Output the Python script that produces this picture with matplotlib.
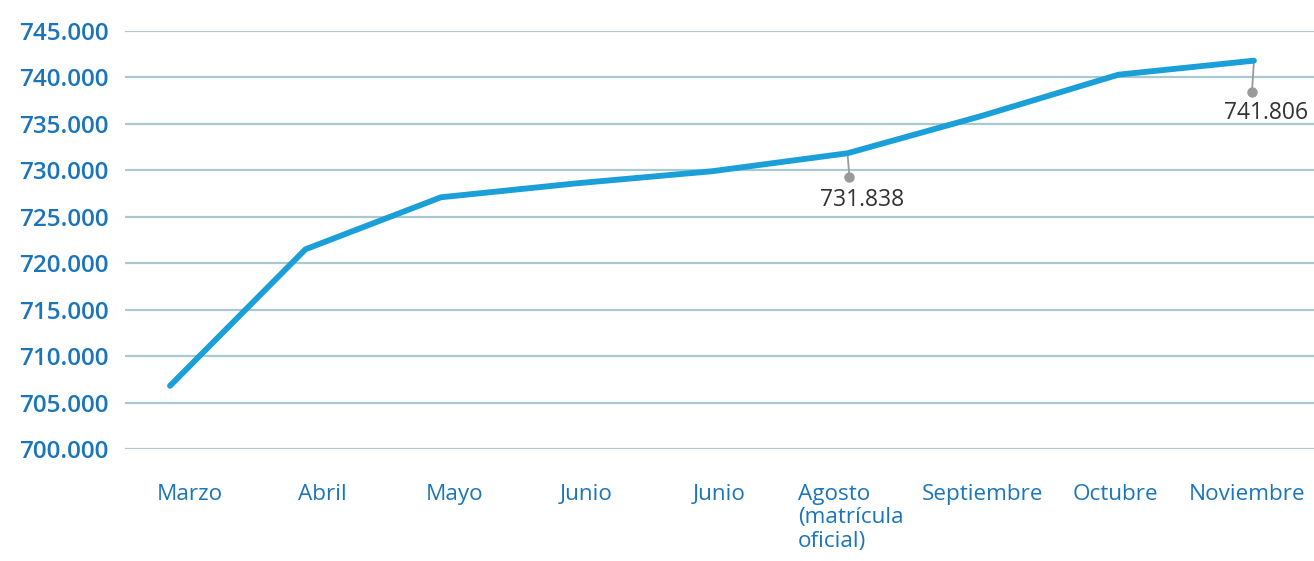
import matplotlib.pyplot as plt
from matplotlib.transforms import offset_copy

# datos
meses = ['Marzo', 'Abril', 'Mayo', 'Junio', 'Junio',
         'Agosto\n(matrícula\noficial)', 'Septiembre', 'Octubre', 'Noviembre']
matricula = [706800, 721500, 727100, 728600, 729900, 731838, 735900, 740300, 741806]
y_ticks = [700000, 705000, 710000, 715000, 720000, 725000, 730000, 735000, 740000, 745000]
etiquetas = {5: '731.838', 8: '741.806'}

azul_linea = '#1a9fd8'
azul_texto = '#1b75bb'
gris_grid = '#a9c9d1'
gris = '#9a9a9a'
fuente = 'Open Sans'

fig = plt.figure(figsize=(13.14, 5.61), dpi=100)
ax = fig.add_axes([125 / 1314, 112 / 561, 1 - 125 / 1314, 418 / 561])

x = list(range(len(meses)))
ax.plot(x, matricula, color=azul_linea, lw=4.2, solid_capstyle='round',
        solid_joinstyle='round', zorder=3)

ax.set_ylim(700000, 745000)
ax.set_xlim(-0.332, 8.443)
ax.set_yticks(y_ticks)
ax.set_yticklabels([f'{v:,.0f}'.replace(',', '.') for v in y_ticks],
                   fontsize=17.5, fontweight='semibold', color=azul_texto, family=fuente)
ax.grid(axis='y', color=gris_grid, lw=1.6)
ax.set_axisbelow(True)
for s in ax.spines.values():
    s.set_visible(False)
ax.tick_params(axis='y', length=0, pad=12)
ax.tick_params(axis='x', length=0, pad=25)

# etiquetas del eje x, espaciado un poco distinto al de los puntos
pos_lbl = [0.15 + i * 0.975 for i in x]
ax.set_xticks(pos_lbl)
ax.set_xticklabels(meses, fontsize=16.2, color=azul_texto, family=fuente,
                   va='top', ha='center', multialignment='left', linespacing=1.17)

# anotaciones con punto gris
offs = {5: (2, 24, 15, 47), 8: (-2, 31, 12, 52)}
for i, txt in etiquetas.items():
    dx, dy, tx, ty = offs[i]
    ax.annotate('', xy=(i, matricula[i]), xytext=(dx, -dy), textcoords='offset pixels',
                arrowprops=dict(arrowstyle='-', color=gris, lw=1.3, shrinkA=0, shrinkB=0),
                zorder=2)
    tr = offset_copy(ax.transData, fig=fig, x=dx, y=-dy, units='dots')
    ax.plot([i], [matricula[i]], 'o', color=gris, ms=6.5, transform=tr, zorder=2,
            clip_on=False)
    ax.annotate(txt, xy=(i, matricula[i]), xytext=(tx, -ty), textcoords='offset pixels',
                ha='center', va='center', fontsize=16.5, color='#333333', family=fuente)

fig.savefig('out.png', dpi=100)
